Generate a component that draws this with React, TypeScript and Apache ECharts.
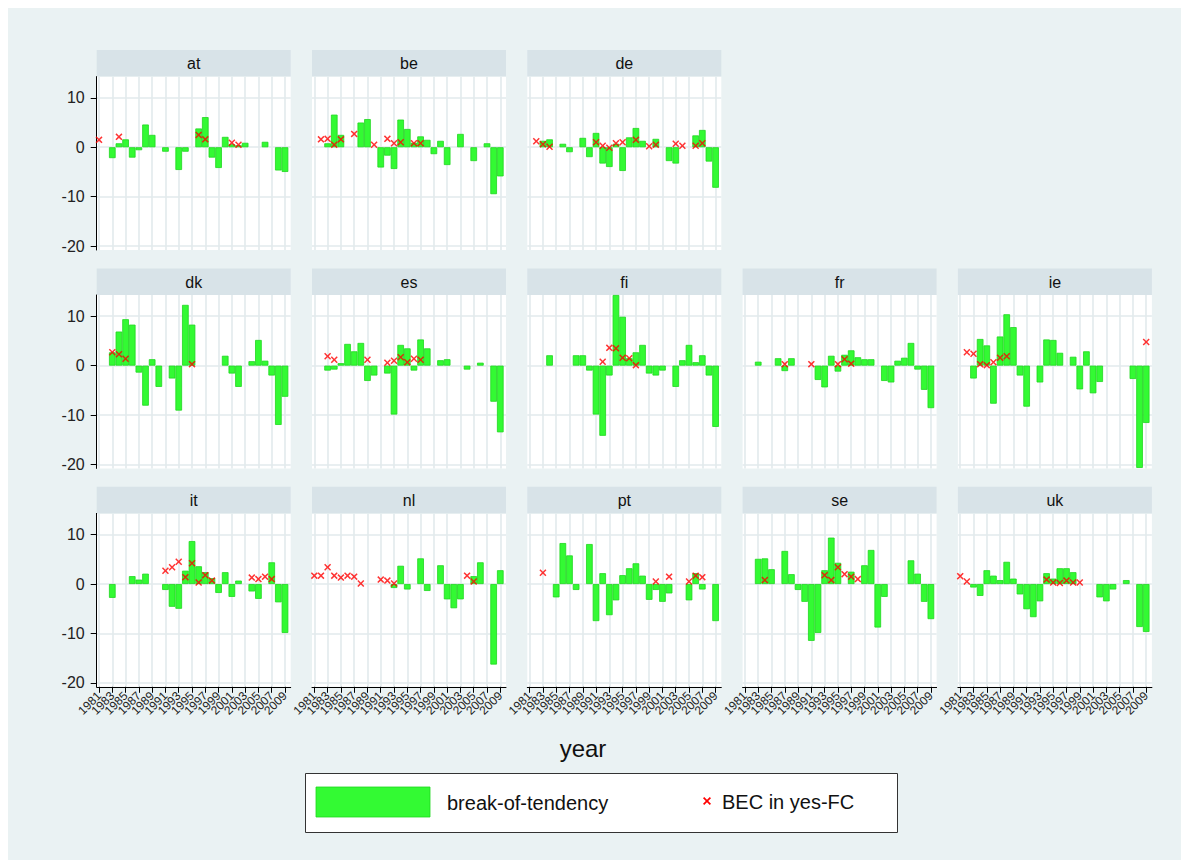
import React, { useEffect, useRef } from "react";
import * as echarts from "echarts";

// ---------- data (year, value) ----------
const oddYears = [1981, 1983, 1985, 1987, 1989, 1991, 1993, 1995, 1997, 1999, 2001, 2003, 2005, 2007, 2009];
const yearLabelsA = [1981, 1985, 1989, 1993, 1997, 2001, 2005, 2009];
const yearLabelsB = [1983, 1987, 1991, 1995, 1999, 2003, 2007];
const yTicks = [-20, -10, 0, 10];

const atBars = [[1983,-2.2],[1984,0.8],[1985,1.6],[1986,-2.1],[1987,-0.6],[1988,4.6],[1989,2.5],[1991,-0.9],[1993,-4.6],[1994,-0.9],[1996,3.8],[1997,6.1],[1998,-2.1],[1999,-4.2],[2000,2.1],[2001,0.6],[2002,0.4],[2003,0.9],[2006,1.1],[2008,-4.7],[2009,-5.0]];
const atBec = [[1981,1.5],[1984,2.1],[1996,2.5],[1997,1.6],[2001,0.9],[2002,0.5]];

const beBars = [[1983,0.8],[1984,6.6],[1985,2.5],[1988,5.0],[1989,5.7],[1991,-4.1],[1992,-1.7],[1993,-4.4],[1994,5.6],[1995,3.7],[1996,0.9],[1997,2.2],[1998,1.5],[1999,-1.4],[2000,1.3],[2001,-3.6],[2003,2.7],[2005,-2.8],[2007,0.8],[2008,-9.5],[2009,-5.9]];
const beBec = [[1982,1.6],[1983,1.7],[1984,0.5],[1985,1.6],[1987,2.7],[1990,0.5],[1992,1.7],[1993,0.8],[1994,1.0],[1996,0.8],[1997,0.8]];

const deBars = [[1983,1.3],[1984,1.6],[1986,0.7],[1987,-1.0],[1989,1.9],[1990,-2.0],[1991,2.9],[1992,-3.3],[1993,-4.0],[1994,0.7],[1995,-4.8],[1996,2.0],[1997,3.9],[1998,1.3],[2000,1.7],[2002,-2.8],[2003,-3.3],[2006,2.4],[2007,3.5],[2008,-2.9],[2009,-8.2]];
const deBec = [[1982,1.2],[1983,0.6],[1984,0.1],[1991,1.0],[1992,0.3],[1993,-0.1],[1994,0.8],[1995,1.0],[1997,1.5],[1999,0.2],[2000,0.5],[2003,0.7],[2004,0.3],[2006,0.3],[2007,0.8]];

const dkBars = [[1983,2.7],[1984,6.9],[1985,9.4],[1986,8.3],[1987,-1.4],[1988,-8.1],[1989,1.3],[1990,-4.3],[1992,-2.6],[1993,-9.1],[1994,12.3],[1995,8.3],[2000,2.0],[2001,-1.6],[2002,-4.3],[2004,0.9],[2005,5.2],[2006,1.0],[2007,-2.0],[2008,-12.0],[2009,-6.3]];
const dkBec = [[1983,2.7],[1984,2.3],[1985,1.4],[1995,0.3]];

const esBars = [[1983,-1.0],[1984,-0.8],[1985,0.5],[1986,4.4],[1987,2.9],[1988,4.6],[1989,-3.1],[1990,-2.0],[1992,-1.6],[1993,-9.9],[1994,4.2],[1995,3.5],[1996,-1.0],[1997,5.3],[1998,3.5],[2000,1.1],[2001,1.3],[2004,-0.8],[2006,0.6],[2008,-7.3],[2009,-13.5]];
const esBec = [[1983,1.9],[1984,1.2],[1989,1.2],[1992,0.6],[1993,1.0],[1994,1.7],[1995,0.7],[1996,1.4],[1997,1.2]];

const fiBars = [[1984,2.1],[1988,2.1],[1989,2.1],[1990,-1.0],[1991,-9.9],[1992,-14.2],[1993,-2.0],[1994,14.3],[1995,9.9],[1996,1.5],[1997,2.7],[1998,4.2],[1999,-1.6],[2000,-2.0],[2001,-1.0],[2003,-4.3],[2004,1.1],[2005,4.2],[2006,0.7],[2007,2.1],[2008,-2.0],[2009,-12.4]];
const fiBec = [[1992,0.8],[1993,3.6],[1994,3.5],[1995,1.6],[1996,1.5],[1997,0.1]];

const frBars = [[1983,0.8],[1986,1.5],[1987,-1.1],[1988,1.5],[1992,-2.9],[1993,-4.4],[1994,2.0],[1995,-1.2],[1996,2.2],[1997,3.1],[1998,1.7],[1999,1.3],[2000,1.3],[2002,-3.1],[2003,-3.4],[2004,1.0],[2005,1.6],[2006,4.6],[2007,-0.8],[2008,-4.9],[2009,-8.6]];
const frBec = [[1987,0.3],[1991,0.3],[1995,0.3],[1996,1.3],[1997,0.4]];

const ieBars = [[1983,-2.6],[1984,5.4],[1985,4.1],[1986,-7.7],[1987,5.9],[1988,10.4],[1989,7.8],[1990,-2.0],[1991,-8.3],[1993,-3.4],[1994,5.3],[1995,5.2],[1996,2.6],[1998,1.8],[1999,-4.8],[2000,2.9],[2001,-5.6],[2002,-3.3],[2007,-2.7],[2008,-20.7],[2009,-11.6]];
const ieBec = [[1982,2.7],[1983,2.4],[1984,0.3],[1985,0.1],[1986,0.7],[1987,1.6],[1988,1.9],[2009,4.8]];

const itBars = [[1983,-2.8],[1986,1.6],[1987,0.9],[1988,2.1],[1991,-1.2],[1992,-4.6],[1993,-5.0],[1994,2.7],[1995,8.7],[1996,3.6],[1997,2.4],[1998,1.2],[1999,-1.8],[2000,2.4],[2001,-2.6],[2002,0.7],[2004,-1.5],[2005,-3.0],[2007,4.4],[2008,-3.7],[2009,-9.9]];
const itBec = [[1991,2.7],[1992,3.4],[1993,4.5],[1994,1.4],[1995,4.2],[1996,0.3],[1997,1.8],[1998,0.7],[2004,1.3],[2005,1.0],[2006,1.5],[2007,1.0]];

const nlBars = [[1993,-0.8],[1994,3.7],[1995,-1.1],[1997,5.2],[1998,-1.4],[2000,3.8],[2001,-3.1],[2002,-4.9],[2003,-3.1],[2005,1.6],[2006,4.4],[2008,-16.3],[2009,2.8]];
const nlBec = [[1981,1.7],[1982,1.7],[1983,3.4],[1984,1.7],[1985,1.3],[1986,1.7],[1987,1.5],[1988,0.1],[1991,0.9],[1992,0.7],[1993,0.1],[2004,1.7],[2005,0.5]];

const ptBars = [[1985,-2.7],[1986,8.3],[1987,5.8],[1988,-1.2],[1990,8.1],[1991,-7.5],[1992,2.2],[1993,-6.3],[1994,-3.3],[1995,1.8],[1996,3.2],[1997,4.2],[1998,1.7],[1999,-3.2],[2000,-1.2],[2001,-3.6],[2002,-1.9],[2005,-3.3],[2006,2.2],[2007,-1.1],[2009,-7.5]];
const ptBec = [[1983,2.3],[2000,0.5],[2002,1.5],[2005,0.5],[2006,1.7],[2007,1.4]];

const seBars = [[1983,5.1],[1984,5.2],[1985,3.0],[1987,6.7],[1988,2.0],[1989,-1.2],[1990,-3.6],[1991,-11.5],[1992,-9.9],[1993,2.8],[1994,9.4],[1995,4.3],[1997,2.5],[1999,3.8],[2000,6.9],[2001,-8.8],[2002,-2.6],[2006,4.8],[2007,2.1],[2008,-3.6],[2009,-7.1]];
const seBec = [[1984,0.8],[1993,1.8],[1994,0.8],[1995,3.4],[1996,2.0],[1997,1.5],[1998,1.0]];

const ukBars = [[1983,-0.7],[1984,-2.4],[1985,2.8],[1986,1.7],[1987,0.8],[1988,4.5],[1989,1.1],[1990,-2.1],[1991,-5.1],[1992,-6.7],[1993,-3.5],[1994,2.2],[1995,1.1],[1996,3.2],[1997,3.2],[1998,2.4],[2002,-2.7],[2003,-3.5],[2004,-1.1],[2006,0.8],[2008,-8.7],[2009,-9.7]];
const ukBec = [[1981,1.6],[1982,0.5],[1994,0.9],[1995,0.3],[1996,0.2],[1997,0.7],[1998,0.3],[1999,0.3]];

const panels = [
  { name: "at", row: 0, col: 0, bars: atBars, bec: atBec },
  { name: "be", row: 0, col: 1, bars: beBars, bec: beBec },
  { name: "de", row: 0, col: 2, bars: deBars, bec: deBec },
  { name: "dk", row: 1, col: 0, bars: dkBars, bec: dkBec },
  { name: "es", row: 1, col: 1, bars: esBars, bec: esBec },
  { name: "fi", row: 1, col: 2, bars: fiBars, bec: fiBec },
  { name: "fr", row: 1, col: 3, bars: frBars, bec: frBec },
  { name: "ie", row: 1, col: 4, bars: ieBars, bec: ieBec },
  { name: "it", row: 2, col: 0, bars: itBars, bec: itBec },
  { name: "nl", row: 2, col: 1, bars: nlBars, bec: nlBec },
  { name: "pt", row: 2, col: 2, bars: ptBars, bec: ptBec },
  { name: "se", row: 2, col: 3, bars: seBars, bec: seBec },
  { name: "uk", row: 2, col: 4, bars: ukBars, bec: ukBec },
];

// ---------- layout / style ----------
const W = 1173, H = 852;
const COL_LEFT0 = 88.7, COL_STEP = 215.3, PANEL_W = 194;
const ROW_TOP0 = 68.6, ROW_STEP = 218.4, PANEL_H = 173.4;
const STRIP_H = 26.6;
const X_MIN = 1980.65, X_MAX = 2009.86;
const Y_MIN = -20.8, Y_MAX = 14.3;
const FONT = "'Liberation Sans', Arial, Helvetica, sans-serif";
const BG = "#eaf2f3";
const STRIP = "#d8e3e8";
const GRIDC = "#e2eaed";
const BAR = "#33fa33";
const BAR_EDGE = "#1fd71f";
const RED = "#ff0000";
const X_PATH = "M0,1.5L1.5,0L5,3.5L8.5,0L10,1.5L6.5,5L10,8.5L8.5,10L5,6.5L1.5,10L0,8.5L3.5,5Z";

function xPolygon(cx: number, cy: number, s: number) {
  const pts = [[0,1.5],[1.5,0],[5,3.5],[8.5,0],[10,1.5],[6.5,5],[10,8.5],[8.5,10],[5,6.5],[1.5,10],[0,8.5],[3.5,5]];
  return pts.map(([x, y]) => [cx + (x - 5) * s / 10, cy + (y - 5) * s / 10]);
}

export default function App() {
  const ref = useRef<HTMLDivElement>(null);
  useEffect(() => {
    if (!ref.current) return;
    const chart = echarts.init(ref.current, undefined, { renderer: "svg" });
    const grid: any[] = [], xAxis: any[] = [], yAxis: any[] = [], series: any[] = [], graphic: any[] = [];
    const barW = PANEL_W / (X_MAX - X_MIN);
    const labelStyle = { rotate: 45, margin: 7, fontSize: 12, color: "#222", fontFamily: FONT, showMinLabel: true, showMaxLabel: true, formatter: (v: number) => String(v) };
    panels.forEach((p, i) => {
      const left = COL_LEFT0 + p.col * COL_STEP;
      const top = ROW_TOP0 + p.row * ROW_STEP;
      grid.push({ left, top, width: PANEL_W, height: PANEL_H, show: true, backgroundColor: "#fff", borderWidth: 0 });
      const bottom = p.row === 2;
      const firstCol = p.col === 0;
      const xi = xAxis.length;
      xAxis.push({
        type: "value", gridIndex: i, min: X_MIN, max: X_MAX, position: "bottom",
        axisLine: { show: bottom, onZero: false, lineStyle: { color: "#000", width: 1 } },
        axisTick: { show: bottom, customValues: oddYears, length: 6, lineStyle: { color: "#000" } },
        axisLabel: { show: bottom, customValues: yearLabelsA, ...labelStyle },
        splitLine: { show: true, lineStyle: { color: GRIDC, width: 1.6 } },
      });
      if (bottom) {
        xAxis.push({
          type: "value", gridIndex: i, min: X_MIN, max: X_MAX, position: "bottom", offset: 0,
          axisLine: { show: false },
          axisTick: { show: false, customValues: yearLabelsB },
          axisLabel: { show: true, customValues: yearLabelsB, ...labelStyle },
          splitLine: { show: false },
        });
      }
      yAxis.push({
        type: "value", gridIndex: i, min: Y_MIN, max: Y_MAX,
        axisLine: { show: firstCol, onZero: false, lineStyle: { color: "#000", width: 1 } },
        axisTick: { show: firstCol, customValues: yTicks, length: 6, lineStyle: { color: "#000" } },
        axisLabel: { show: firstCol, customValues: yTicks, margin: 12, fontSize: 16, color: "#222", fontFamily: FONT, showMinLabel: true, showMaxLabel: true },
        splitLine: { show: true, lineStyle: { color: GRIDC, width: 1.6 } },
      });
      series.push({
        name: "break-of-tendency", type: "bar", xAxisIndex: xi, yAxisIndex: i,
        data: p.bars, barWidth: barW, z: 2,
        itemStyle: { color: BAR, borderColor: BAR_EDGE, borderWidth: 0.8 },
      });
      series.push({
        name: "BEC in yes-FC", type: "scatter", xAxisIndex: xi, yAxisIndex: i,
        data: p.bec, symbol: "path://" + X_PATH, symbolSize: 7, z: 5,
        itemStyle: { color: RED },
      });
      graphic.push({ type: "rect", shape: { x: left, y: top - STRIP_H, width: PANEL_W, height: STRIP_H }, style: { fill: STRIP } });
      graphic.push({ type: "text", x: left + PANEL_W / 2, y: top - STRIP_H / 2 + 0.5, style: { text: p.name, fontSize: 16, fontFamily: FONT, fill: "#111", align: "center", verticalAlign: "middle" } });
    });
    graphic.push({ type: "text", x: 575, y: 740, style: { text: "year", fontSize: 24, fontFamily: FONT, fill: "#111", align: "center", verticalAlign: "middle" } });
    graphic.push({ type: "rect", shape: { x: 297.5, y: 765.5, width: 592, height: 59 }, style: { fill: "#fff", stroke: "#333", lineWidth: 1 } });
    graphic.push({ type: "rect", shape: { x: 308, y: 779, width: 114, height: 30 }, style: { fill: BAR, stroke: BAR_EDGE, lineWidth: 0.8 } });
    graphic.push({ type: "text", x: 439, y: 795, style: { text: "break-of-tendency", fontSize: 20, fontFamily: FONT, fill: "#111", verticalAlign: "middle" } });
    graphic.push({ type: "polygon", shape: { points: xPolygon(699, 793, 8) }, style: { fill: RED } });
    graphic.push({ type: "text", x: 714, y: 794, style: { text: "BEC in yes-FC", fontSize: 20, fontFamily: FONT, fill: "#111", verticalAlign: "middle" } });

    chart.setOption({
      animation: false,
      backgroundColor: BG,
      grid, xAxis, yAxis, series, graphic,
    });
    return () => chart.dispose();
  }, []);
  return <div ref={ref} style={{ width: W, height: H }} />;
}
